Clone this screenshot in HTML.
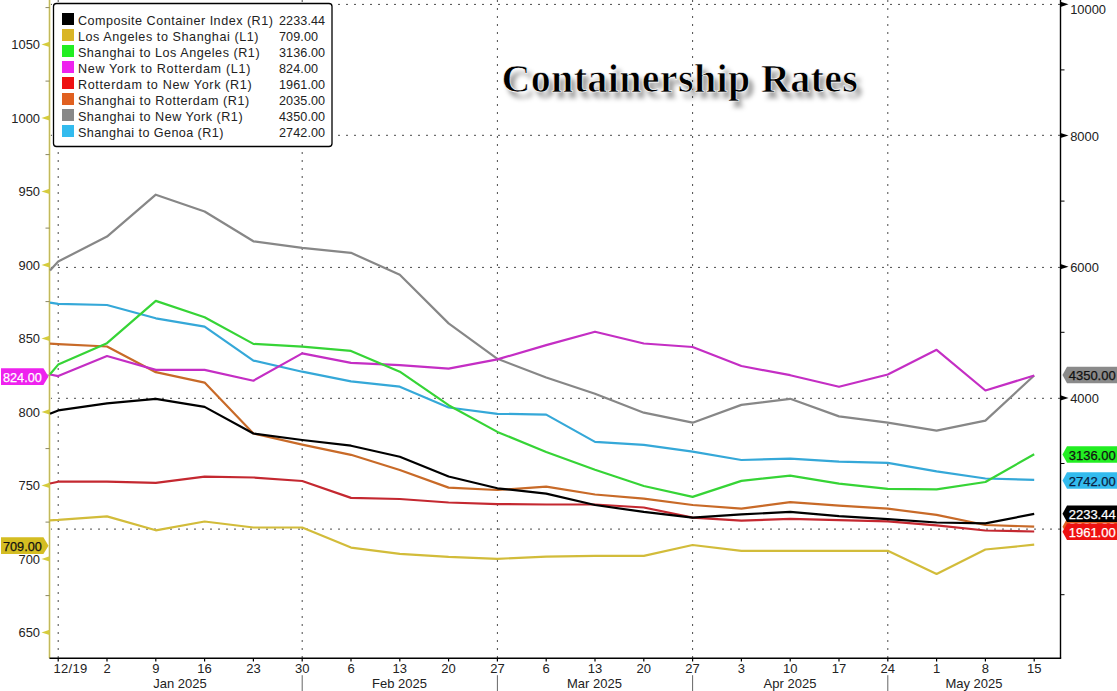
<!DOCTYPE html><html><head><meta charset="utf-8"><style>
html,body{margin:0;padding:0;background:#fff;width:1117px;height:691px;overflow:hidden}
svg{display:block}
text{font-family:"Liberation Sans",sans-serif}
.ttl{font-family:"Liberation Serif",serif;font-weight:bold}
</style></head><body>
<svg width="1117" height="691" viewBox="0 0 1117 691">
<defs><filter id="bl" x="-10%" y="-40%" width="120%" height="180%"><feGaussianBlur stdDeviation="2.8"/></filter></defs>
<rect width="1117" height="691" fill="#fff"/>
<line x1="50.0" y1="4.4" x2="1060.5" y2="4.4" stroke="#4a4a4a" stroke-width="1" stroke-dasharray="2 6"/>
<line x1="50.0" y1="135.3" x2="1060.5" y2="135.3" stroke="#4a4a4a" stroke-width="1" stroke-dasharray="2 6"/>
<line x1="50.0" y1="267.4" x2="1060.5" y2="267.4" stroke="#4a4a4a" stroke-width="1" stroke-dasharray="2 6"/>
<line x1="50.0" y1="398.3" x2="1060.5" y2="398.3" stroke="#4a4a4a" stroke-width="1" stroke-dasharray="2 6"/>
<line x1="50.0" y1="529.1" x2="1060.5" y2="529.1" stroke="#4a4a4a" stroke-width="1" stroke-dasharray="2 6"/>
<line x1="58.2" y1="0" x2="58.2" y2="658.3" stroke="#4a4a4a" stroke-width="1" stroke-dasharray="2 6"/>
<line x1="302.2" y1="0" x2="302.2" y2="658.3" stroke="#4a4a4a" stroke-width="1" stroke-dasharray="2 6"/>
<line x1="497.4" y1="0" x2="497.4" y2="658.3" stroke="#4a4a4a" stroke-width="1" stroke-dasharray="2 6"/>
<line x1="692.6" y1="0" x2="692.6" y2="658.3" stroke="#4a4a4a" stroke-width="1" stroke-dasharray="2 6"/>
<line x1="887.8" y1="0" x2="887.8" y2="658.3" stroke="#4a4a4a" stroke-width="1" stroke-dasharray="2 6"/>
<line x1="49.5" y1="0" x2="49.5" y2="658.3" stroke="#f6f3d2" stroke-width="2.8"/>
<line x1="49.5" y1="0" x2="49.5" y2="658.3" stroke="#c2b95c" stroke-width="1.2"/>
<polygon points="49.5,629.8 49.5,635.0 41.5,632.4" fill="#d6cc3c"/>
<text x="40.0" y="637.4" font-size="12.9" text-anchor="end" fill="#222">650</text>
<line x1="45.5" y1="595.6" x2="49.5" y2="595.6" stroke="#8a8660" stroke-width="1"/>
<polygon points="49.5,556.3 49.5,561.5 41.5,558.9" fill="#d6cc3c"/>
<text x="40.0" y="563.9" font-size="12.9" text-anchor="end" fill="#222">700</text>
<line x1="45.5" y1="522.1" x2="49.5" y2="522.1" stroke="#8a8660" stroke-width="1"/>
<polygon points="49.5,482.8 49.5,488.0 41.5,485.4" fill="#d6cc3c"/>
<text x="40.0" y="490.4" font-size="12.9" text-anchor="end" fill="#222">750</text>
<line x1="45.5" y1="448.6" x2="49.5" y2="448.6" stroke="#8a8660" stroke-width="1"/>
<polygon points="49.5,409.3 49.5,414.5 41.5,411.9" fill="#d6cc3c"/>
<text x="40.0" y="416.9" font-size="12.9" text-anchor="end" fill="#222">800</text>
<line x1="45.5" y1="375.1" x2="49.5" y2="375.1" stroke="#8a8660" stroke-width="1"/>
<polygon points="49.5,335.8 49.5,341.0 41.5,338.4" fill="#d6cc3c"/>
<text x="40.0" y="343.4" font-size="12.9" text-anchor="end" fill="#222">850</text>
<line x1="45.5" y1="301.6" x2="49.5" y2="301.6" stroke="#8a8660" stroke-width="1"/>
<polygon points="49.5,262.3 49.5,267.5 41.5,264.9" fill="#d6cc3c"/>
<text x="40.0" y="269.9" font-size="12.9" text-anchor="end" fill="#222">900</text>
<line x1="45.5" y1="228.1" x2="49.5" y2="228.1" stroke="#8a8660" stroke-width="1"/>
<polygon points="49.5,188.8 49.5,194.0 41.5,191.4" fill="#d6cc3c"/>
<text x="40.0" y="196.4" font-size="12.9" text-anchor="end" fill="#222">950</text>
<line x1="45.5" y1="154.6" x2="49.5" y2="154.6" stroke="#8a8660" stroke-width="1"/>
<polygon points="49.5,115.3 49.5,120.5 41.5,117.9" fill="#d6cc3c"/>
<text x="40.0" y="122.9" font-size="12.9" text-anchor="end" fill="#222">1000</text>
<line x1="45.5" y1="81.1" x2="49.5" y2="81.1" stroke="#8a8660" stroke-width="1"/>
<polygon points="49.5,41.8 49.5,47.0 41.5,44.4" fill="#d6cc3c"/>
<text x="40.0" y="49.4" font-size="12.9" text-anchor="end" fill="#222">1050</text>
<line x1="45.5" y1="7.6" x2="49.5" y2="7.6" stroke="#8a8660" stroke-width="1"/>
<line x1="1060.5" y1="0" x2="1060.5" y2="658.3" stroke="#000" stroke-width="1.4"/>
<line x1="1060.5" y1="594.7" x2="1064.5" y2="594.7" stroke="#000" stroke-width="1"/>
<line x1="1060.5" y1="463.5" x2="1064.5" y2="463.5" stroke="#000" stroke-width="1"/>
<polygon points="1060.5,395.3 1060.5,400.5 1068.5,397.9" fill="#000"/>
<text x="1070.2" y="403.2" font-size="12.9" fill="#222">4000</text>
<line x1="1060.5" y1="332.3" x2="1064.5" y2="332.3" stroke="#000" stroke-width="1"/>
<polygon points="1060.5,264.1 1060.5,269.3 1068.5,266.7" fill="#000"/>
<text x="1070.2" y="272.0" font-size="12.9" fill="#222">6000</text>
<line x1="1060.5" y1="201.1" x2="1064.5" y2="201.1" stroke="#000" stroke-width="1"/>
<polygon points="1060.5,132.9 1060.5,138.1 1068.5,135.5" fill="#000"/>
<text x="1070.2" y="140.8" font-size="12.9" fill="#222">8000</text>
<line x1="1060.5" y1="69.9" x2="1064.5" y2="69.9" stroke="#000" stroke-width="1"/>
<polygon points="1060.5,1.7 1060.5,6.9 1068.5,4.3" fill="#000"/>
<text x="1070.2" y="13.9" font-size="12.9" fill="#222">10000</text>
<line x1="49.5" y1="658.3" x2="1061.2" y2="658.3" stroke="#000" stroke-width="1.5"/>
<line x1="58.2" y1="658.3" x2="58.2" y2="661.6" stroke="#000" stroke-width="1.2"/>
<text x="53.5" y="672.5" font-size="13" letter-spacing="0.3" fill="#222">12/19</text>
<line x1="107.0" y1="658.3" x2="107.0" y2="661.6" stroke="#000" stroke-width="1.2"/>
<text x="107.0" y="672.5" font-size="13" text-anchor="middle" fill="#222">2</text>
<line x1="155.8" y1="658.3" x2="155.8" y2="661.6" stroke="#000" stroke-width="1.2"/>
<text x="155.8" y="672.5" font-size="13" text-anchor="middle" fill="#222">9</text>
<line x1="204.6" y1="658.3" x2="204.6" y2="661.6" stroke="#000" stroke-width="1.2"/>
<text x="204.6" y="672.5" font-size="13" text-anchor="middle" fill="#222">16</text>
<line x1="253.4" y1="658.3" x2="253.4" y2="661.6" stroke="#000" stroke-width="1.2"/>
<text x="253.4" y="672.5" font-size="13" text-anchor="middle" fill="#222">23</text>
<line x1="302.2" y1="658.3" x2="302.2" y2="661.6" stroke="#000" stroke-width="1.2"/>
<text x="302.2" y="672.5" font-size="13" text-anchor="middle" fill="#222">30</text>
<line x1="351.0" y1="658.3" x2="351.0" y2="661.6" stroke="#000" stroke-width="1.2"/>
<text x="351.0" y="672.5" font-size="13" text-anchor="middle" fill="#222">6</text>
<line x1="399.8" y1="658.3" x2="399.8" y2="661.6" stroke="#000" stroke-width="1.2"/>
<text x="399.8" y="672.5" font-size="13" text-anchor="middle" fill="#222">13</text>
<line x1="448.6" y1="658.3" x2="448.6" y2="661.6" stroke="#000" stroke-width="1.2"/>
<text x="448.6" y="672.5" font-size="13" text-anchor="middle" fill="#222">20</text>
<line x1="497.4" y1="658.3" x2="497.4" y2="661.6" stroke="#000" stroke-width="1.2"/>
<text x="497.4" y="672.5" font-size="13" text-anchor="middle" fill="#222">27</text>
<line x1="546.2" y1="658.3" x2="546.2" y2="661.6" stroke="#000" stroke-width="1.2"/>
<text x="546.2" y="672.5" font-size="13" text-anchor="middle" fill="#222">6</text>
<line x1="595.0" y1="658.3" x2="595.0" y2="661.6" stroke="#000" stroke-width="1.2"/>
<text x="595.0" y="672.5" font-size="13" text-anchor="middle" fill="#222">13</text>
<line x1="643.8" y1="658.3" x2="643.8" y2="661.6" stroke="#000" stroke-width="1.2"/>
<text x="643.8" y="672.5" font-size="13" text-anchor="middle" fill="#222">20</text>
<line x1="692.6" y1="658.3" x2="692.6" y2="661.6" stroke="#000" stroke-width="1.2"/>
<text x="692.6" y="672.5" font-size="13" text-anchor="middle" fill="#222">27</text>
<line x1="741.4" y1="658.3" x2="741.4" y2="661.6" stroke="#000" stroke-width="1.2"/>
<text x="741.4" y="672.5" font-size="13" text-anchor="middle" fill="#222">3</text>
<line x1="790.2" y1="658.3" x2="790.2" y2="661.6" stroke="#000" stroke-width="1.2"/>
<text x="790.2" y="672.5" font-size="13" text-anchor="middle" fill="#222">10</text>
<line x1="839.0" y1="658.3" x2="839.0" y2="661.6" stroke="#000" stroke-width="1.2"/>
<text x="839.0" y="672.5" font-size="13" text-anchor="middle" fill="#222">17</text>
<line x1="887.8" y1="658.3" x2="887.8" y2="661.6" stroke="#000" stroke-width="1.2"/>
<text x="887.8" y="672.5" font-size="13" text-anchor="middle" fill="#222">24</text>
<line x1="936.6" y1="658.3" x2="936.6" y2="661.6" stroke="#000" stroke-width="1.2"/>
<text x="936.6" y="672.5" font-size="13" text-anchor="middle" fill="#222">1</text>
<line x1="985.4" y1="658.3" x2="985.4" y2="661.6" stroke="#000" stroke-width="1.2"/>
<text x="985.4" y="672.5" font-size="13" text-anchor="middle" fill="#222">8</text>
<line x1="1034.2" y1="658.3" x2="1034.2" y2="661.6" stroke="#000" stroke-width="1.2"/>
<text x="1034.2" y="672.5" font-size="13" text-anchor="middle" fill="#222">15</text>
<line x1="302.2" y1="675.2" x2="302.2" y2="691" stroke="#666" stroke-width="1"/>
<line x1="497.4" y1="675.2" x2="497.4" y2="691" stroke="#666" stroke-width="1"/>
<line x1="692.6" y1="675.2" x2="692.6" y2="691" stroke="#666" stroke-width="1"/>
<line x1="887.8" y1="675.2" x2="887.8" y2="691" stroke="#666" stroke-width="1"/>
<text x="180.0" y="688.0" font-size="13" text-anchor="middle" fill="#222">Jan 2025</text>
<text x="399.5" y="688.0" font-size="13" text-anchor="middle" fill="#222">Feb 2025</text>
<text x="594.5" y="688.0" font-size="13" text-anchor="middle" fill="#222">Mar 2025</text>
<text x="790.0" y="688.0" font-size="13" text-anchor="middle" fill="#222">Apr 2025</text>
<text x="974.0" y="688.0" font-size="13" text-anchor="middle" fill="#222">May 2025</text>
<g fill="none" stroke-width="2.2" stroke-linejoin="round" stroke-linecap="butt">
<polyline stroke="#35a8d8" points="50.0,302.7 58.2,303.9 107.0,305.0 155.8,318.3 204.6,326.6 253.4,360.6 302.2,371.7 351.0,381.4 399.8,386.7 448.6,407.5 497.4,413.8 546.2,414.6 595.0,441.9 643.8,444.8 692.6,451.7 741.4,460.0 790.2,458.7 839.0,461.7 887.8,462.8 936.6,471.4 985.4,478.5 1034.2,479.9"/>
<polyline stroke="#878787" points="50.0,270.5 58.2,261.5 107.0,236.6 155.8,194.7 204.6,211.5 253.4,241.3 302.2,247.8 351.0,252.8 399.8,274.8 448.6,323.4 497.4,358.8 546.2,377.5 595.0,393.8 643.8,412.7 692.6,422.7 741.4,404.9 790.2,398.8 839.0,416.4 887.8,422.7 936.6,430.6 985.4,420.6 1034.2,375.5"/>
<polyline stroke="#c86a28" points="50.0,343.7 58.2,344.2 107.0,346.5 155.8,372.2 204.6,382.6 253.4,433.5 302.2,444.6 351.0,454.8 399.8,470.0 448.6,487.6 497.4,490.0 546.2,486.7 595.0,494.5 643.8,498.7 692.6,505.0 741.4,508.7 790.2,502.2 839.0,505.6 887.8,508.7 936.6,514.9 985.4,525.0 1034.2,526.6"/>
<polyline stroke="#c42830" points="50.0,483.5 58.2,481.7 107.0,481.7 155.8,482.8 204.6,476.6 253.4,477.5 302.2,481.0 351.0,497.9 399.8,499.0 448.6,502.5 497.4,504.1 546.2,504.5 595.0,504.5 643.8,507.5 692.6,517.7 741.4,520.7 790.2,518.8 839.0,520.2 887.8,521.4 936.6,525.3 985.4,530.5 1034.2,531.5"/>
<polyline stroke="#c42ec4" points="50.0,374.5 58.2,376.1 107.0,356.0 155.8,369.9 204.6,369.9 253.4,380.7 302.2,353.4 351.0,362.9 399.8,365.2 448.6,368.7 497.4,359.4 546.2,345.1 595.0,331.7 643.8,343.5 692.6,347.0 741.4,366.0 790.2,375.2 839.0,386.8 887.8,374.5 936.6,349.8 985.4,390.5 1034.2,375.5"/>
<polyline stroke="#36d436" points="50.0,374.2 58.2,364.6 107.0,343.2 155.8,300.9 204.6,317.2 253.4,343.9 302.2,346.6 351.0,350.9 399.8,371.7 448.6,405.2 497.4,431.9 546.2,452.0 595.0,469.8 643.8,486.0 692.6,496.9 741.4,480.9 790.2,475.6 839.0,483.7 887.8,488.8 936.6,489.4 985.4,482.0 1034.2,454.2"/>
<polyline stroke="#d2bc3a" points="50.0,520.3 58.2,519.9 107.0,516.4 155.8,530.3 204.6,521.5 253.4,527.5 302.2,527.5 351.0,547.6 399.8,553.9 448.6,556.9 497.4,558.8 546.2,556.6 595.0,555.9 643.8,555.9 692.6,545.0 741.4,550.8 790.2,550.8 839.0,550.8 887.8,550.8 936.6,573.9 985.4,549.5 1034.2,544.7"/>
<polyline stroke="#000000" points="50.0,413.8 58.2,410.4 107.0,403.4 155.8,398.8 204.6,406.9 253.4,433.5 302.2,440.0 351.0,445.7 399.8,456.8 448.6,476.5 497.4,488.3 546.2,493.6 595.0,505.0 643.8,511.9 692.6,517.7 741.4,514.4 790.2,511.9 839.0,516.1 887.8,519.1 936.6,522.5 985.4,523.3 1034.2,513.9"/>
</g>
<text class="ttl" x="506" y="97.6" font-size="40" letter-spacing="0.35" fill="#000" fill-opacity="0.42" filter="url(#bl)">Containership Rates</text>
<text class="ttl" x="501.5" y="91.6" font-size="40" letter-spacing="0.35" fill="#000" stroke="#fff" stroke-width="0.7">Containership Rates</text>
<rect x="53.5" y="3.5" width="278.5" height="143" rx="3" ry="3" fill="#fff" stroke="#000" stroke-width="1.3"/>
<rect x="62" y="13.0" width="12" height="12" fill="#000000"/>
<text x="77.9" y="24.6" font-size="12.6" textLength="195.0" lengthAdjust="spacing" fill="#222">Composite Container Index (R1)</text>
<text x="279" y="24.6" font-size="12.6" letter-spacing="0.1" fill="#222">2233.44</text>
<rect x="62" y="29.0" width="12" height="12" fill="#d9b526"/>
<text x="77.9" y="40.6" font-size="12.6" textLength="180.6" lengthAdjust="spacing" fill="#222">Los Angeles to Shanghai (L1)</text>
<text x="279" y="40.6" font-size="12.6" letter-spacing="0.1" fill="#222">709.00</text>
<rect x="62" y="45.0" width="12" height="12" fill="#22ee22"/>
<text x="77.9" y="56.6" font-size="12.6" textLength="181.7" lengthAdjust="spacing" fill="#222">Shanghai to Los Angeles (R1)</text>
<text x="279" y="56.6" font-size="12.6" letter-spacing="0.1" fill="#222">3136.00</text>
<rect x="62" y="61.0" width="12" height="12" fill="#ee22ee"/>
<text x="77.9" y="72.6" font-size="12.6" textLength="172.5" lengthAdjust="spacing" fill="#222">New York to Rotterdam (L1)</text>
<text x="279" y="72.6" font-size="12.6" letter-spacing="0.1" fill="#222">824.00</text>
<rect x="62" y="77.0" width="12" height="12" fill="#ee1111"/>
<text x="77.9" y="88.6" font-size="12.6" textLength="173.8" lengthAdjust="spacing" fill="#222">Rotterdam to New York (R1)</text>
<text x="279" y="88.6" font-size="12.6" letter-spacing="0.1" fill="#222">1961.00</text>
<rect x="62" y="93.0" width="12" height="12" fill="#e06020"/>
<text x="77.9" y="104.6" font-size="12.6" textLength="171.3" lengthAdjust="spacing" fill="#222">Shanghai to Rotterdam (R1)</text>
<text x="279" y="104.6" font-size="12.6" letter-spacing="0.1" fill="#222">2035.00</text>
<rect x="62" y="109.0" width="12" height="12" fill="#888888"/>
<text x="77.9" y="120.6" font-size="12.6" textLength="164.7" lengthAdjust="spacing" fill="#222">Shanghai to New York (R1)</text>
<text x="279" y="120.6" font-size="12.6" letter-spacing="0.1" fill="#222">4350.00</text>
<rect x="62" y="125.0" width="12" height="12" fill="#33bbee"/>
<text x="77.9" y="136.6" font-size="12.6" textLength="145.5" lengthAdjust="spacing" fill="#222">Shanghai to Genoa (R1)</text>
<text x="279" y="136.6" font-size="12.6" letter-spacing="0.1" fill="#222">2742.00</text>
<polygon points="1062.5,374.9 1067,366.7 1117,366.7 1117,383.2 1067,383.2" fill="#8a8a8a"/>
<text x="1068.7" y="380.1" font-size="13" fill="#111" stroke="#111" stroke-width="0.25">4350.00</text>
<polygon points="1062.5,454.6 1067,446.3 1117,446.3 1117,462.8 1067,462.8" fill="#22ee22"/>
<text x="1068.7" y="459.8" font-size="13" fill="#111" stroke="#111" stroke-width="0.25">3136.00</text>
<polygon points="1062.5,480.4 1067,472.2 1117,472.2 1117,488.7 1067,488.7" fill="#33bbee"/>
<text x="1068.7" y="485.6" font-size="13" fill="#0a2040" stroke="#0a2040" stroke-width="0.25">2742.00</text>
<polygon points="1062.5,526.8 1067,518.6 1117,518.6 1117,535.1 1067,535.1" fill="#e06020"/>
<text x="1068.7" y="532.0" font-size="13" fill="#fff" stroke="#fff" stroke-width="0.25">2035.00</text>
<polygon points="1062.5,513.8 1067,505.5 1117,505.5 1117,522.0 1067,522.0" fill="#000000"/>
<text x="1068.7" y="519.0" font-size="13" fill="#fff" stroke="#fff" stroke-width="0.25">2233.44</text>
<polygon points="1062.5,531.7 1067,523.4 1117,523.4 1117,539.9 1067,539.9" fill="#ee1111"/>
<text x="1068.7" y="536.9" font-size="13" fill="#fff" stroke="#fff" stroke-width="0.25">1961.00</text>
<polygon points="1,368.2 43.4,368.2 48.5,376.6 43.4,385.0 1,385.0" fill="#ee22ee"/>
<text x="3" y="381.6" font-size="12.7" fill="#fff" stroke="#fff" stroke-width="0.25">824.00</text>
<polygon points="1,537.3 43.4,537.3 48.5,545.7 43.4,554.1 1,554.1" fill="#d4bd22"/>
<text x="3" y="550.7" font-size="12.7" fill="#111" stroke="#111" stroke-width="0.25">709.00</text>
</svg></body></html>
